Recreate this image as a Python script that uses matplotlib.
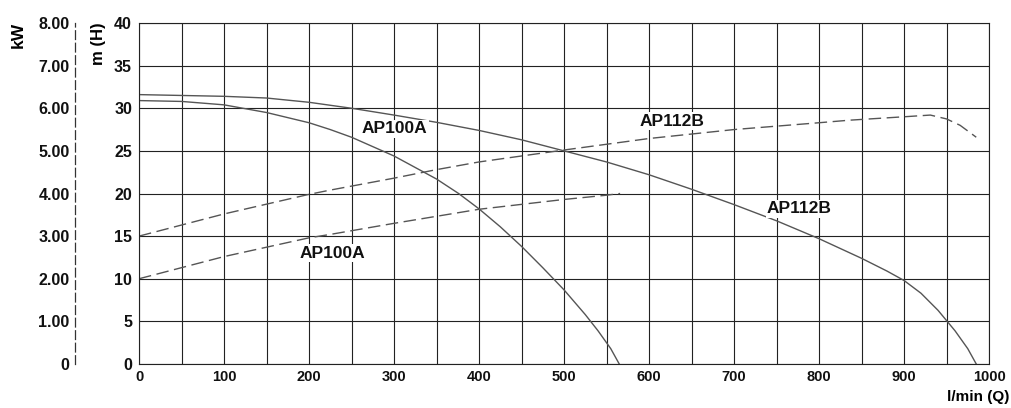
import matplotlib.pyplot as plt

plt.rcParams['font.family'] = ['Liberation Sans', 'DejaVu Sans']
plt.rcParams['font.weight'] = 'bold'

# head curves (l/min -> m)
q_100a_head = [0, 50, 100, 150, 200, 225, 250, 300, 350, 376, 400, 425, 450,
               475, 500, 525, 540, 555, 565]
h_100a_head = [30.9, 30.8, 30.4, 29.5, 28.3, 27.5, 26.6, 24.4, 21.7, 20.0, 18.2, 16.1,
               13.8, 11.3, 8.7, 5.8, 3.9, 1.8, 0.0]
q_112b_head = [0, 50, 100, 150, 200, 225, 250, 300, 350, 400, 450, 500, 550, 600,
               650, 700, 750, 800, 850, 880, 900, 920, 940, 960, 975, 985]
h_112b_head = [31.6, 31.5, 31.4, 31.2, 30.7, 30.35, 30.0, 29.2, 28.35, 27.4, 26.3,
               25.0, 23.7, 22.2, 20.5, 18.7, 16.8, 14.7, 12.4, 10.9, 9.8, 8.3, 6.3,
               3.9, 1.8, 0.0]

# power curves (l/min -> kW)
q_100a_pow = [0, 100, 200, 225, 300, 400, 500, 550, 566]
kw_100a_pow = [2.00, 2.52, 2.96, 3.04, 3.30, 3.63, 3.86, 3.96, 4.00]
q_112b_pow = [0, 100, 200, 225, 300, 350, 400, 500, 600, 700, 800, 836, 900,
              931, 950, 966, 985]
kw_112b_pow = [3.00, 3.52, 3.98, 4.08, 4.36, 4.56, 4.74, 5.02, 5.29, 5.50, 5.66,
               5.72, 5.80, 5.84, 5.75, 5.60, 5.32]

x_ticks = list(range(0, 1001, 100))
m_ticks = list(range(0, 41, 5))
kw_ticks = [0, 1, 2, 3, 4, 5, 6, 7, 8]
kw_labels = ['0', '1.00', '2.00', '3.00', '4.00', '5.00', '6.00', '7.00', '8.00']

labels = [('AP100A', 301, 27.6), ('AP100A', 228, 13.0),
          ('AP112B', 627, 28.5), ('AP112B', 777, 18.2)]

fig = plt.figure(figsize=(10.11, 4.08), dpi=100)
ax = fig.add_axes([139/1011, 44/408, 850/1011, 341/408])

ax.set_xlim(0, 1000)
ax.set_ylim(0, 40)
ax.set_xticks(x_ticks)
ax.set_xticks(list(range(50, 1000, 100)), minor=True)
ax.set_yticks(m_ticks)
ax.grid(which='both', color='#222222', lw=0.8)
ax.tick_params(which='both', length=0, colors='#111111')
ax.tick_params(axis='y', pad=5, labelsize=11.5)
ax.tick_params(axis='x', pad=4, labelsize=10.5)
for s in ax.spines.values():
    s.set_color('#222222')
    s.set_linewidth(0.8)

curve = dict(color='#555555', lw=1.0)
ax.plot(q_100a_head, h_100a_head, **curve)
ax.plot(q_112b_head, h_112b_head, **curve)
ax.plot(q_100a_pow, [k * 5 for k in kw_100a_pow], dashes=(9, 4), **curve)
ax.plot(q_112b_pow, [k * 5 for k in kw_112b_pow], dashes=(9, 4), **curve)

for txt, x, y in labels:
    ax.text(x, y, txt, ha='center', va='center', fontsize=12.5, fontweight='bold',
            color='#111111', bbox=dict(facecolor='white', edgecolor='none', pad=1))

# kW axis on the far left
ax2 = ax.twinx()
ax2.set_ylim(0, 8)
ax2.yaxis.tick_left()
ax2.set_yticks(kw_ticks)
ax2.set_yticklabels(kw_labels)
ax2.tick_params(length=0, labelsize=11.5, colors='#111111', pad=4)
for k in ['right', 'top', 'bottom']:
    ax2.spines[k].set_visible(False)
ax2.spines['left'].set_position(('outward', 46))
ax2.spines['left'].set_linestyle((0, (7, 3)))
ax2.spines['left'].set_color('#333333')
ax2.spines['left'].set_linewidth(0.9)

fig.text(98/1011, 1 - 22/408, 'm (H)', rotation=90, ha='center', va='top', fontsize=12, fontweight='bold')
fig.text(18/1011, 1 - 22/408, 'kW', rotation=90, ha='center', va='top', fontsize=12.5, fontweight='bold')
fig.text(1009/1011, 1 - 397/408, 'l/min (Q)', ha='right', va='center', fontsize=11, fontweight='bold')

fig.savefig('out.png', dpi=100)
